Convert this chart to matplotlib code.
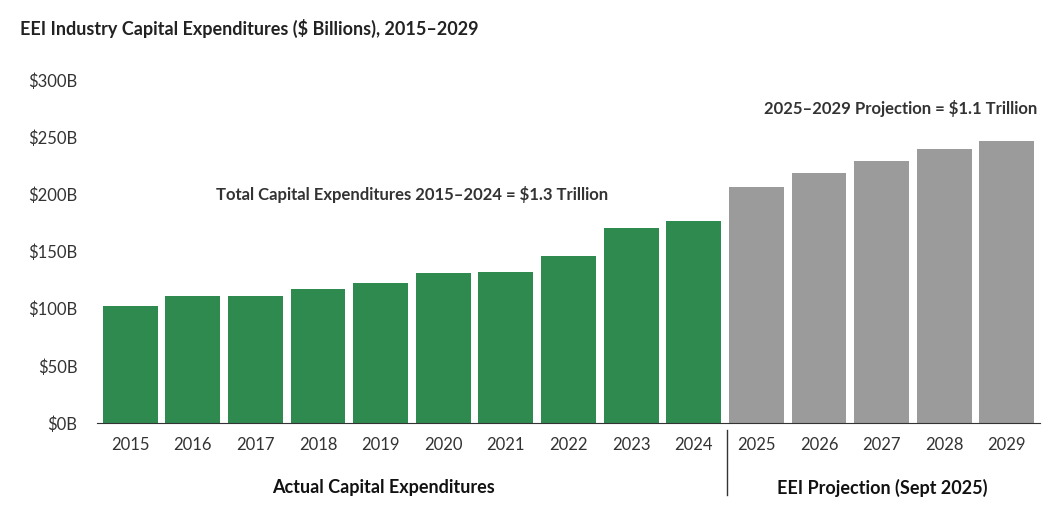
import matplotlib
matplotlib.use("Agg")
import matplotlib.pyplot as plt

plt.rcParams['font.family'] = ['Lato', 'DejaVu Sans']

years = [str(y) for y in range(2015, 2030)]
values = [102.3, 111, 111, 117, 122.5, 131, 132, 146, 170.5, 176.7, 206.4, 218.7, 229, 239.6, 246.6]
colors = ['#2e8a4f'] * 10 + ['#9b9b9b'] * 5
yticks = [0, 50, 100, 150, 200, 250, 300]
ylabels = [f'${t}B' for t in yticks]

W, H = 1059, 516
fig = plt.figure(figsize=(W/100, H/100), dpi=100)
ax = fig.add_axes([97/W, 1-423/H, (1040-97)/W, (423-80)/H])
x = list(range(len(years)))
ax.bar(x, values, width=0.875, color=colors)
ax.set_xlim(-0.5 - 0.03, 14.5 + 0.03)
ax.set_ylim(0, 300)
ax.set_yticks(yticks, ylabels)
ax.set_xticks(x, years)
ax.tick_params(axis='both', length=0, labelsize=12, colors='#333333')
ax.tick_params(axis='x', pad=10)
ax.tick_params(axis='y', pad=14)
for s in ['top', 'right', 'left']:
    ax.spines[s].set_visible(False)
ax.spines['bottom'].set_color('#333333')

fig.text(20/W, 1-28/H, 'EEI Industry Capital Expenditures ($ Billions), 2015–2029',
         fontsize=13, fontweight='bold', color='#222222', va='center')
ax.text(4.5, 200, 'Total Capital Expenditures 2015–2024 = $1.3 Trillion',
        ha='center', va='center', fontsize=12, fontweight='bold', color='#333333')
ax.text(12.3, 275, '2025–2029 Projection = $1.1 Trillion',
        ha='center', va='center', fontsize=12, fontweight='bold', color='#333333')
fig.text(383/W, 1-488/H, 'Actual Capital Expenditures', ha='center', va='center',
         fontsize=13, fontweight='bold', color='#111111')
fig.text(882/W, 1-488/H, 'EEI Projection (Sept 2025)', ha='center', va='center',
         fontsize=13, fontweight='bold', color='#111111')
fig.add_artist(plt.Line2D([727/W, 727/W], [1-430/H, 1-495/H], color='#333333', lw=1))

fig.savefig('out.png', dpi=100, facecolor='white')
